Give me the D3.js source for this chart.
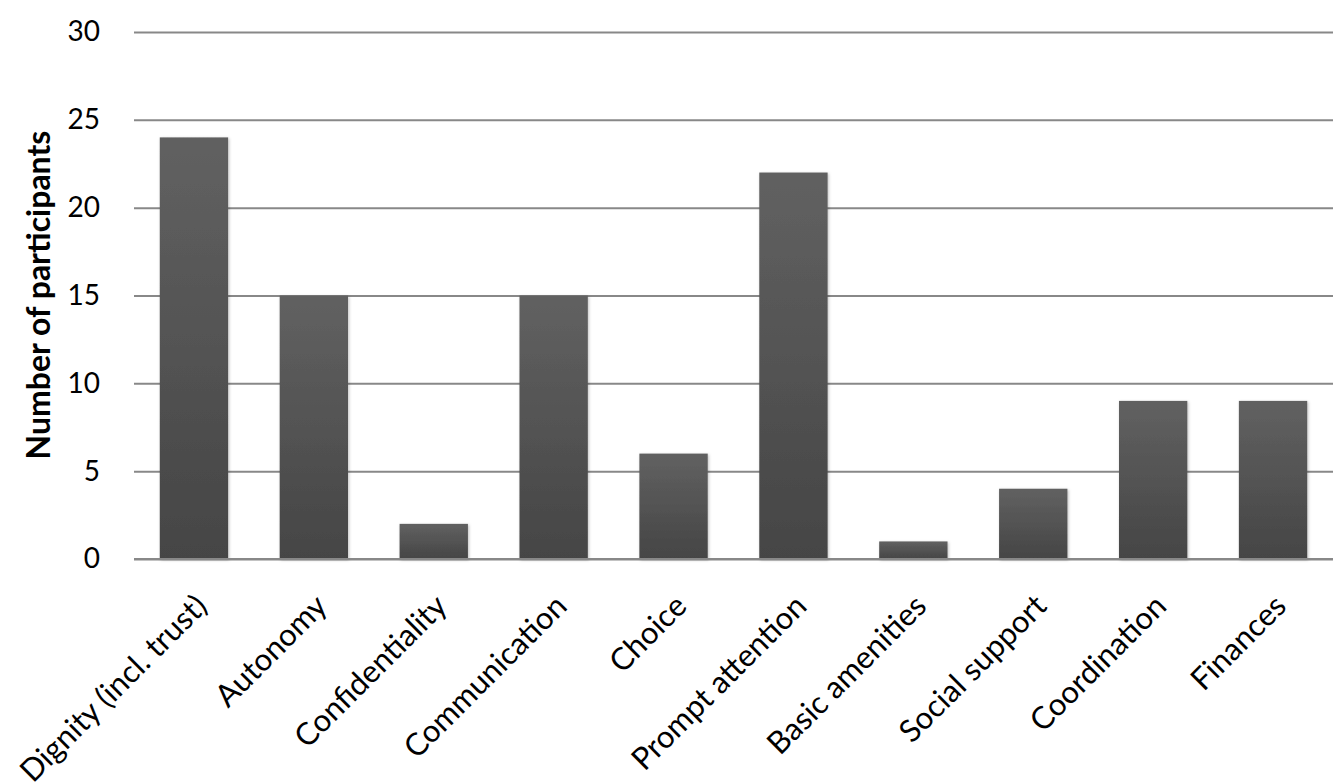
<!DOCTYPE html>
<html><head><meta charset="utf-8">
<script src="https://cdn.jsdelivr.net/npm/d3@7"></script>
<style>body{margin:0;background:#fff}svg{display:block}</style>
</head><body><svg id="c" width="1336" height="783"></svg>
<script>
const categories = ["Dignity (incl. trust)","Autonomy","Confidentiality","Communication","Choice","Prompt attention","Basic amenities","Social support","Coordination","Finances"];
const values = [24,15,2,15,6,22,1,4,9,9];
const yTicks = [0,5,10,15,20,25,30];
const yTitle = "Number of participants";

(function(){
const svg = d3.select("#c");
const font = "Lato, 'Open Sans', sans-serif";
const mL = 134, mR = 1333, mT = 32, mB = 559;
const x = d3.scaleBand().domain(categories).range([mL, mR]).paddingInner(0.43).paddingOuter(0.215);
const y = d3.scaleLinear().domain([0,30]).range([mB, mT]);

const defs = svg.append("defs");
const g = defs.append("linearGradient").attr("id","bg").attr("x1",0).attr("y1",0).attr("x2",0).attr("y2",1);
g.append("stop").attr("offset","0%").attr("stop-color","#616161");
g.append("stop").attr("offset","100%").attr("stop-color","#454545");
const f = defs.append("filter").attr("id","sh").attr("x","-10%").attr("y","-10%").attr("width","130%").attr("height","130%");
f.append("feDropShadow").attr("dx",1).attr("dy",1).attr("stdDeviation",1.5).attr("flood-color","#000").attr("flood-opacity",0.25);

const ya = svg.append("g").attr("transform",`translate(${mL},0)`)
  .call(d3.axisLeft(y).tickValues(yTicks).tickSize(-(mR-mL)).tickPadding(34));
ya.select(".domain").remove();
ya.selectAll(".tick line").attr("stroke","#888").attr("stroke-width",2);
ya.selectAll(".tick text").attr("font-family",font).attr("font-size",28).attr("fill","#000");

svg.append("g").selectAll("rect").data(values).join("rect")
  .attr("x",(d,i)=>x(categories[i])).attr("width",x.bandwidth())
  .attr("y",d=>y(d)).attr("height",d=>y(0)-y(d))
  .attr("fill","url(#bg)").attr("filter","url(#sh)");

svg.append("line").attr("x1",mL).attr("x2",mR).attr("y1",y(0)).attr("y2",y(0)).attr("stroke","#888").attr("stroke-width",2);

const xa = svg.append("g").attr("transform",`translate(0,${mB})`)
  .call(d3.axisBottom(x).tickSize(0).tickPadding(0));
xa.select(".domain").remove();
xa.selectAll(".tick text").attr("font-family",font).attr("font-size",31).attr("fill","#000")
  .attr("text-anchor","end").attr("dy",0)
  .attr("transform","translate(15,49) rotate(-45)");

svg.append("text").attr("transform",`translate(50,295) rotate(-90)`)
  .attr("text-anchor","middle").attr("font-family",font).attr("font-weight","bold").attr("font-size",32)
  .text(yTitle);
})();
</script></body></html>
